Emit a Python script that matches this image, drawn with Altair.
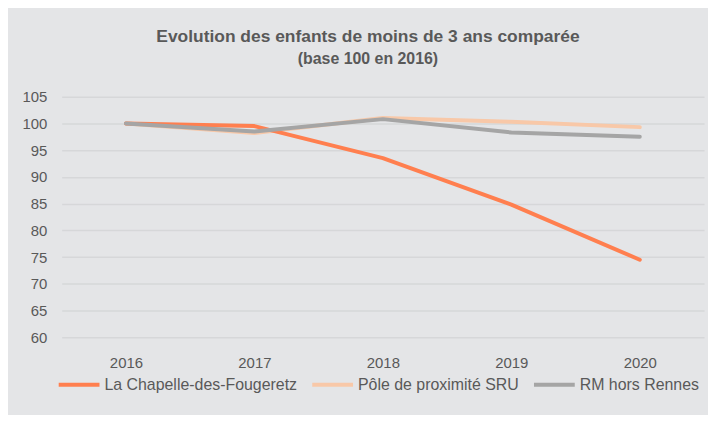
import altair as alt
import pandas as pd

years = ["2016", "2017", "2018", "2019", "2020"]
chapelle = [100.0, 99.5, 93.5, 84.8, 74.5]
pole = [100.0, 98.2, 101.0, 100.3, 99.3]
rm = [100.0, 98.5, 100.8, 98.3, 97.5]

series_names = ["La Chapelle-des-Fougeretz", "Pôle de proximité SRU", "RM hors Rennes"]
series_colors = ["#FF7F4F", "#F8C8A8", "#A5A5A5"]

# drawing order: Pôle, then La Chapelle, then RM on top
rows = []
for name, vals, order in [(series_names[1], pole, 0), (series_names[0], chapelle, 1), (series_names[2], rm, 2)]:
    for y, v in zip(years, vals):
        rows.append({"Année": y, "Indice": v, "Série": name, "ordre": order})
df = pd.DataFrame(rows)

font = "Liberation Sans"
txt = "#595959"

chart = (
    alt.Chart(df)
    .mark_line(strokeWidth=4, strokeCap="round", strokeJoin="round")
    .encode(
        x=alt.X(
            "Année:O",
            title=None,
            scale=alt.Scale(paddingOuter=0.5, paddingInner=0),
            axis=alt.Axis(labelAngle=0, ticks=False, domain=False, labelPadding=18,
                          labelFontSize=15, labelColor=txt, labelFont=font),
        ),
        y=alt.Y(
            "Indice:Q",
            title=None,
            scale=alt.Scale(domain=[60, 105], nice=False, zero=False),
            axis=alt.Axis(values=list(range(60, 106, 5)), ticks=False, domain=False,
                          labelPadding=15, labelFontSize=15, labelColor=txt, labelFont=font,
                          gridColor="#D6D7D9", gridWidth=1.5),
        ),
        color=alt.Color(
            "Série:N",
            scale=alt.Scale(domain=series_names, range=series_colors),
            legend=alt.Legend(
                title=None, orient="none", direction="horizontal",
                legendX=-5, legendY=267,
                symbolType="stroke", symbolSize=1681, symbolStrokeWidth=4,
                labelFontSize=16, labelColor=txt, labelFont=font, labelOffset=3,
                columnPadding=7, labelLimit=400,
            ),
        ),
        detail="ordre:N",
    )
    .properties(
        width=646,
        height=242,
        background="#E4E5E7",
        padding={"left": 54, "top": 88, "right": 4, "bottom": 77},
        autosize=alt.AutoSizeParams(type="none"),
        title=alt.TitleParams(
            text="Evolution des enfants de moins de 3 ans comparée",
            subtitle="(base 100 en 2016)",
            anchor="middle", frame="group", dx=-15, offset=23,
            font=font, fontSize=17.5, fontWeight="bold", color=txt,
            subtitleFont=font, subtitleFontSize=16, subtitleFontWeight="bold",
            subtitleColor=txt, subtitlePadding=5,
        ),
    )
    .configure_view(stroke=None)
)

chart.save("out.html", embed_options={"renderer": "svg", "actions": False})
